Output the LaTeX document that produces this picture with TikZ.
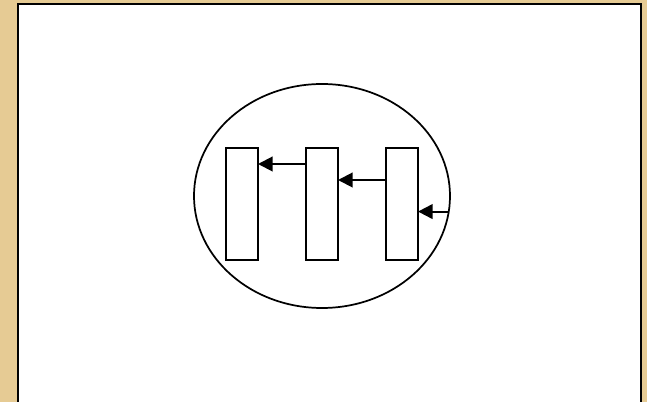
\documentclass[tikz,border=0pt]{standalone}
\usetikzlibrary{shapes.geometric,arrows.meta}
\definecolor{parchment}{RGB}{230,203,148}
\begin{document}
\begin{tikzpicture}[
    x=0.75pt,y=-0.75pt,
    bar/.style={rectangle,draw,line width=1.5pt,fill=white,minimum width=24pt,minimum height=84pt,inner sep=0pt,outer sep=0pt},
    oval/.style={ellipse,draw,line width=1.3pt,minimum width=192pt,minimum height=168pt,inner sep=0pt,outer sep=0pt},
    link/.style={line width=1.5pt,-{Triangle[length=11pt,width=11pt]}}
]
% page and sheet
\fill[parchment] (0,0) rectangle (647,402);
\useasboundingbox (0,0) rectangle (647,402);
\draw[line width=1.8pt,fill=white] (18,4) rectangle (641,420);

\node[oval] (O)  at (322,196) {};
\node[bar]  (B1) at (242,204) {};
\node[bar]  (B2) at (322,204) {};
\node[bar]  (B3) at (402,204) {};

\draw[link] ([yshift=-12pt]B2.north west) -- ([yshift=-12pt]B1.north east);
\draw[link] ([yshift=-24pt]B3.north west) -- ([yshift=-24pt]B2.north east);
\draw[link] (O.-7) -- (O.-7 -| B3.east);
\end{tikzpicture}
\end{document}
